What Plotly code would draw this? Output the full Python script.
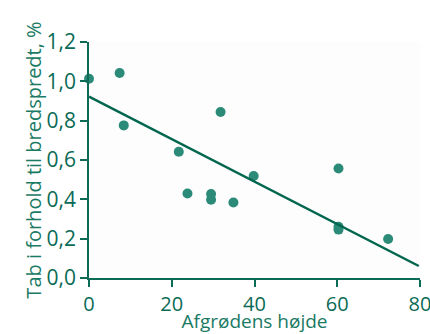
import plotly.graph_objects as go

# Data
crop_height = [0.0, 7.4, 8.4, 21.7, 23.8, 29.5, 29.5, 31.8, 34.9, 39.8, 60.3, 60.3, 60.3, 72.3]
loss_pct = [1.013, 1.042, 0.776, 0.642, 0.430, 0.427, 0.398, 0.844, 0.384, 0.519, 0.557, 0.261, 0.246, 0.198]
trend_x = [0, 79.7]
trend_y = [0.922, 0.061]

x_ticks = [0, 20, 40, 60, 80]
y_ticks = [0.0, 0.2, 0.4, 0.6, 0.8, 1.0, 1.2]

GREEN = "#0b6b56"
MARK = "#2b8b78"
FONT = "Open Sans"

fig = go.Figure()
fig.add_trace(go.Scatter(x=crop_height, y=loss_pct, mode="markers",
                         marker=dict(size=10, color=MARK, line=dict(width=0)),
                         cliponaxis=False, showlegend=False))
fig.add_trace(go.Scatter(x=trend_x, y=trend_y, mode="lines",
                         line=dict(color="#00664e", width=2.5),
                         cliponaxis=False, showlegend=False))

fig.update_layout(
    width=430, height=334,
    margin=dict(l=89, r=10, t=42, b=56),
    paper_bgcolor="white", plot_bgcolor="#fdfdfd",
    separators=",.",
    font=dict(family=FONT, color=GREEN),
    xaxis=dict(range=[0, 80], tickvals=x_ticks, showgrid=False, zeroline=False, automargin=False,
               showline=True, linecolor=GREEN, linewidth=1.5, ticklabeloverflow="allow",
               ticks="outside", ticklen=7, tickwidth=1.5, tickcolor=GREEN,
               tickfont=dict(size=20, color=GREEN, family=FONT),
               title=dict(text="Afgrødens højde", font=dict(size=19, color="#1a7a64", family=FONT),
                          standoff=7)),
    yaxis=dict(range=[0, 1.2], tickvals=y_ticks, tickformat=".1f", showgrid=False, zeroline=False,
               automargin=False,
               showline=True, linecolor=GREEN, linewidth=1.5,
               ticks="outside", ticklen=7, tickwidth=1.5, tickcolor=GREEN,
               tickfont=dict(size=21, color=GREEN, family=FONT),
               title=dict(text="Tab i forhold til bredspredt, %", font=dict(size=20, color="#1a7a64", family=FONT),
                          standoff=0)),
)

fig.write_html("out.html", config={"displayModeBar": False},
               post_script="document.body.style.margin='0';")
